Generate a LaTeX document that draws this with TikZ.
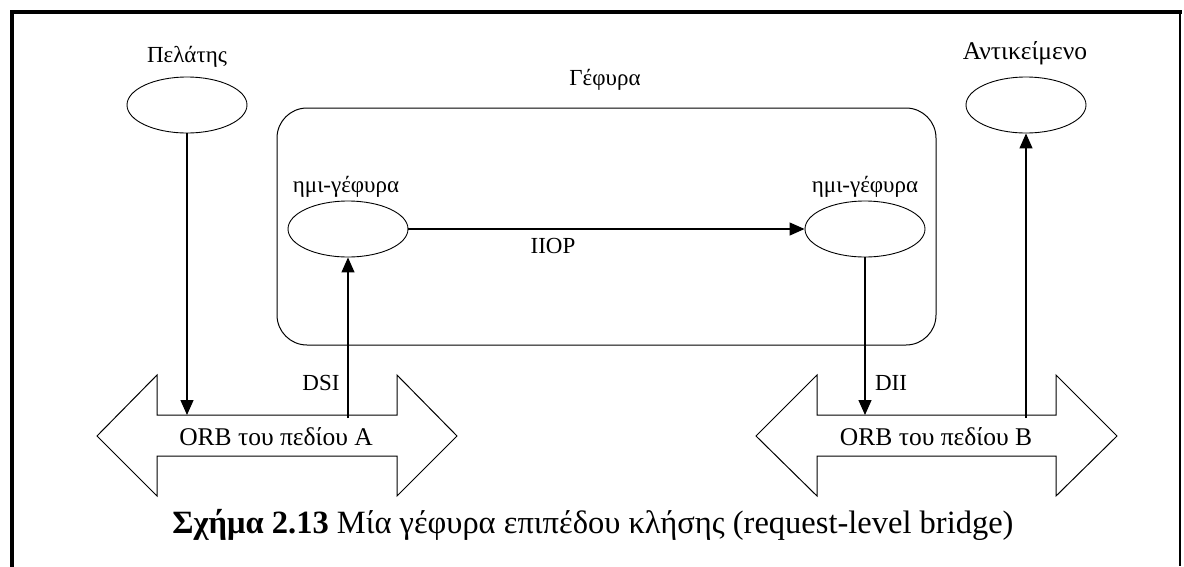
\documentclass[tikz,border=0pt]{standalone}
\usepackage{fontspec}
\setmainfont{Liberation Serif}
\usetikzlibrary{arrows.meta,shapes.geometric}

\begin{document}
\begin{tikzpicture}[x=1pt,y=-1pt,
  oval/.style={draw, ellipse, minimum width=120pt, minimum height=56pt, inner sep=0pt, line width=0.9pt},
  lbl/.style={font=\fontsize{23}{26}\selectfont, inner sep=0pt},
  biglbl/.style={font=\fontsize{25.5}{28}\selectfont, inner sep=0pt},
  flow/.style={line width=1.3pt, -{Triangle[length=15pt,width=13pt]}},
  orbarrow/.style={draw, line width=1pt, line join=miter},
  frameline/.style={line width=4pt, line cap=rect}
]
\useasboundingbox (0,0) rectangle (1184,566);

% page frame
\draw[frameline] (12,566) -- (12,12) -- (1180,12);
\draw[line width=2pt] (1180,12) -- (1180,566);

% client and target object
\node[oval] (cl) at (187,105) {};
\node[lbl] (cllbl) at (187,57) {Πελάτης};
\node[oval] (obj) at (1026,105) {};
\node[biglbl] (objlbl) at (1025,53) {Αντικείμενο};

% bridge with its two half-bridges
\node[draw, line width=1pt, rounded corners=30pt, minimum width=659pt, minimum height=237pt, inner sep=0pt] (bridge) at (606.5,226.5) {};
\node[lbl] (bridgelbl) at (605,80) {Γέφυρα};
\node[oval] (hb1) at (348,229) {};
\node[lbl] (hb1lbl) at (346,187) {ημι-γέφυρα};
\node[oval] (hb2) at (865,229) {};
\node[lbl] (hb2lbl) at (865,187) {ημι-γέφυρα};

\draw[flow] (hb1.east) -- (hb2.west);
\node[lbl] (iiop) at (553,246) {IIOP};

% ORB of domain A
\draw[orbarrow] (97,436) -- (157,375) -- (157,415) -- (397,415) -- (397,375) -- (457,436)
  -- (397,496) -- (397,456) -- (157,456) -- (157,496) -- cycle;
\node[biglbl] (orbA) at (276,437) {ORB του πεδίου A};
\coordinate (orbAtop) at (157,415);
\coordinate (orbAin) at (157,418);

% ORB of domain B
\draw[orbarrow] (756,436) -- (817,375) -- (817,415) -- (1056,415) -- (1056,375) -- (1117,436)
  -- (1056,496) -- (1056,456) -- (817,456) -- (817,496) -- cycle;
\node[biglbl] (orbB) at (936,437) {ORB του πεδίου B};
\coordinate (orbBtop) at (817,415);
\coordinate (orbBin) at (817,418);

% request path
\draw[flow] (cl.south) -- (cl.south |- orbAtop);
\draw[flow] (hb1.south |- orbAin) -- (hb1.south);
\node[lbl] (dsi) at (321,383) {DSI};
\draw[flow] (hb2.south) -- (hb2.south |- orbBtop);
\node[lbl] (dii) at (891,383) {DII};
\draw[flow] (obj.south |- orbBin) -- (obj.south);

% caption
\node[font=\fontsize{32.5}{36}\selectfont, inner sep=0pt] (caption) at (593,525)
  {\textbf{Σχήμα 2.13} Μία γέφυρα επιπέδου κλήσης (request-level bridge)};
\end{tikzpicture}
\end{document}
